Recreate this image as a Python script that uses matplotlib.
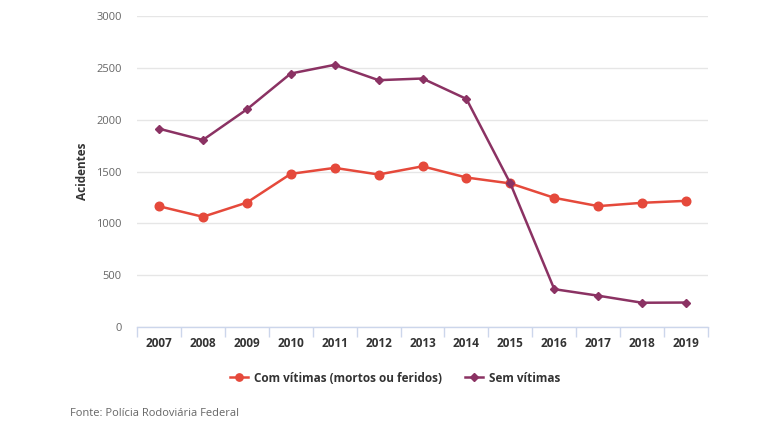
import matplotlib
matplotlib.use("Agg")
import matplotlib.pyplot as plt
import numpy as np

years = ["2007", "2008", "2009", "2010", "2011", "2012", "2013",
         "2014", "2015", "2016", "2017", "2018", "2019"]
com_vitimas = [1165, 1063, 1200, 1477, 1535, 1471, 1550, 1442, 1385, 1246, 1166, 1198, 1217]
sem_vitimas = [1913, 1804, 2099, 2445, 2529, 2381, 2397, 2200, 1385, 365, 302, 234, 236]
y_ticks = [0, 500, 1000, 1500, 2000, 2500, 3000]

RED = "#e5493b"
PURPLE = "#8b3263"

plt.rcParams['font.family'] = ['Open Sans', 'DejaVu Sans']

fig = plt.figure(figsize=(7.6, 4.26), dpi=100)
ax = fig.add_axes([137/760, 1 - 327/426, (708-137)/760, (327-16)/426])

x = np.arange(len(years))
ax.plot(x, com_vitimas, color=RED, lw=1.8, marker='o', ms=6.2,
        label="Com vítimas (mortos ou feridos)", zorder=3)
ax.plot(x, sem_vitimas, color=PURPLE, lw=1.8, marker='D', ms=4.3,
        label="Sem vítimas", zorder=4)

ax.set_xlim(-0.5, len(years) - 0.5)
ax.set_ylim(0, 3000)
ax.set_yticks(y_ticks)
ax.set_yticklabels([str(v) for v in y_ticks], fontsize=8, color="#666666")
ax.set_xticks(x)
ax.set_xticklabels(years, fontsize=8.5, fontweight='bold', color="#333333")
ax.set_xticks(np.arange(-0.5, len(years)), minor=True)
ax.tick_params(axis='x', which='major', length=0, pad=7)
ax.tick_params(axis='x', which='minor', length=7, color="#ccd6eb", width=1)
ax.tick_params(axis='y', length=0, pad=11)

ax.grid(axis='y', color="#e6e6e6", lw=1)
ax.set_axisbelow(True)
for s in ['top', 'left', 'right']:
    ax.spines[s].set_visible(False)
ax.spines['bottom'].set_color("#ccd6eb")
ax.spines['bottom'].set_linewidth(1)

ax.set_ylabel("Acidentes", fontsize=8.5, fontweight='bold', color="#333333", labelpad=5)

fig.legend(loc='center', bbox_to_anchor=(395/760, 1 - 378/426), ncol=2,
           frameon=False, prop={'size': 8.5, 'weight': 'bold'},
           labelcolor="#333333", handlelength=1.5, columnspacing=2.0,
           handletextpad=0.5, markerscale=0.85)

fig.text(70/760, 1 - 413/426, "Fonte: Polícia Rodoviária Federal",
         fontsize=8, color="#666666", va='center', ha='left')

fig.savefig("out.png", dpi=100, facecolor="white")
